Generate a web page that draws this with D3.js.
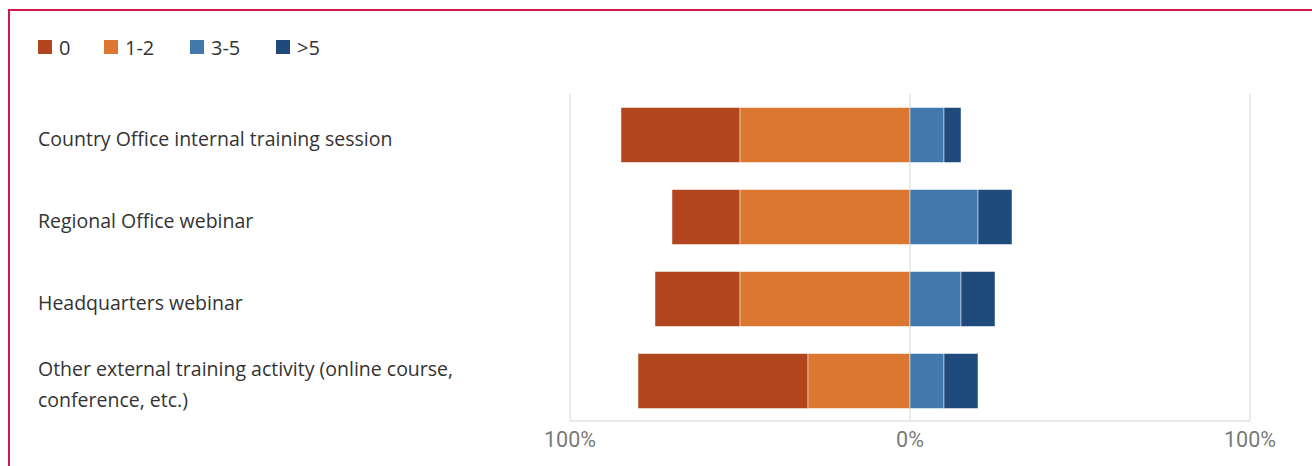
<!DOCTYPE html>
<html>
<head>
<meta charset="utf-8">
<script src="https://cdn.jsdelivr.net/npm/d3@7"></script>
<style>
  html, body { margin: 0; padding: 0; background: #fff; }
  svg { display: block; }
</style>
</head>
<body>
<svg id="chart" width="1312" height="466"></svg>
<script>
// Training activity categories and response shares (percent)
const categories = [
  "Country Office internal training session",
  "Regional Office webinar",
  "Headquarters webinar",
  "Other external training activity (online course, conference, etc.)"
];
const seriesNames = ["0", "1-2", "3-5", ">5"];
const zeroVals  = [35, 20, 25, 50];
const oneTwo    = [50, 50, 50, 30];
const threeFive = [10, 20, 15, 10];
const overFive  = [5, 10, 10, 10];
const tickValues = [-100, 0, 100];
const colors = ["#b0451e", "#db7730", "#4179ad", "#1e4a7c"];

const svg = d3.select("#chart");
const W = 1312, H = 466;
const labelFont = "'Open Sans', 'Noto Sans', sans-serif";

// outer frame
svg.append("rect")
  .attr("x", 9).attr("y", 10)
  .attr("width", W + 10).attr("height", H + 10)
  .attr("fill", "none").attr("stroke", "#d4174a").attr("stroke-width", 2);

const x = d3.scaleLinear().domain([-100, 100]).range([570, 1250]);
const y = d3.scaleBand().domain(categories).range([94, 422]).paddingInner(0.33).paddingOuter(0.165);

// legend
const legend = svg.append("g").attr("transform", "translate(38,40)");
const legendX = [0, 66, 152, 238];
seriesNames.forEach((s, i) => {
  const g = legend.append("g").attr("transform", `translate(${legendX[i]},0)`);
  g.append("rect").attr("width", 14).attr("height", 14).attr("fill", colors[i]);
  g.append("text").attr("x", 21).attr("y", 14.5)
    .attr("font-family", labelFont)
    .attr("font-size", 20).attr("fill", "#333").text(s);
});

// gridlines
const grid = svg.append("g");
grid.selectAll("line.v").data(tickValues).join("line")
  .attr("x1", d => x(d)).attr("x2", d => x(d))
  .attr("y1", 94).attr("y2", 421)
  .attr("stroke", "#e3e3e3").attr("stroke-width", 1.5);
grid.append("line")
  .attr("x1", x(-100)).attr("x2", x(100))
  .attr("y1", 421).attr("y2", 421)
  .attr("stroke", "#e3e3e3").attr("stroke-width", 1.5);

// build stacked segments: left side (0 outermost, 1-2 next to zero), right side (3-5 then >5)
const segments = [];
categories.forEach((c, i) => {
  const a = oneTwo[i], b = zeroVals[i];
  segments.push({ cat: c, s: 0, x0: -(a + b), x1: -a });
  segments.push({ cat: c, s: 1, x0: -a, x1: 0 });
  const p = threeFive[i], q = overFive[i];
  segments.push({ cat: c, s: 2, x0: 0, x1: p });
  segments.push({ cat: c, s: 3, x0: p, x1: p + q });
});

svg.append("g").selectAll("rect").data(segments).join("rect")
  .attr("x", d => x(d.x0))
  .attr("width", d => x(d.x1) - x(d.x0))
  .attr("y", d => y(d.cat))
  .attr("height", y.bandwidth())
  .attr("fill", d => colors[d.s])
  .attr("stroke", "rgba(255,255,255,0.6)").attr("stroke-width", 0.8);

// category labels with wrapping
const labelG = svg.append("g");
categories.forEach(c => {
  const t = labelG.append("text")
    .attr("x", 38)
    .attr("font-family", labelFont)
    .attr("font-size", 19.5).attr("fill", "#333");
  const words = c.split(" ");
  const lines = [];
  let line = [];
  const maxW = 450;
  const tmp = t.append("tspan");
  words.forEach(w => {
    line.push(w);
    tmp.text(line.join(" "));
    if (tmp.node().getComputedTextLength() > maxW && line.length > 1) {
      line.pop();
      lines.push(line.join(" "));
      line = [w];
    }
  });
  lines.push(line.join(" "));
  tmp.remove();
  const lh = 31;
  const cy = y(c) + y.bandwidth() / 2;
  const startY = cy - (lines.length - 1) * lh / 2 + 10.5;
  lines.forEach((l, k) => {
    t.append("tspan").attr("x", 38).attr("y", startY + k * lh).text(l);
  });
});

// x axis tick labels
svg.append("g").selectAll("text").data(tickValues).join("text")
  .attr("x", d => x(d)).attr("y", 447)
  .attr("text-anchor", "middle")
  .attr("font-family", "Roboto, 'Liberation Sans', sans-serif")
  .attr("font-size", 21.5).attr("fill", "#7a7a7a")
  .text(d => Math.abs(d) + "%");
</script>
</body>
</html>
